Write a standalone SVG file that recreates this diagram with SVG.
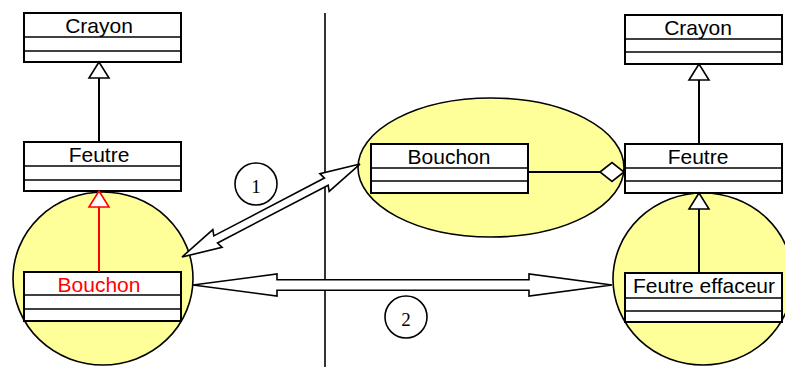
<svg xmlns="http://www.w3.org/2000/svg" width="785" height="367" viewBox="0 0 785 367">
<style>
.bg{fill:#ffffff}
.zone{fill:#ffff99;stroke:#000;stroke-width:1.6}
.box{fill:#fff;stroke:#000;stroke-width:2}
.div{stroke:#000;stroke-width:1.6}
.lbl{font-family:"Liberation Sans",Arial,sans-serif;font-size:21px;text-anchor:middle;fill:#000}
.num{font-family:"Liberation Serif","Times New Roman",serif;font-size:19px;text-anchor:middle;fill:#000}
.line{stroke:#000;stroke-width:2;fill:none}
.tri{fill:#fff;stroke:#000;stroke-width:1.6}
.big{fill:#fff;stroke:#000;stroke-width:1.6;stroke-linejoin:miter}
</style>
<rect class="bg" x="0" y="0" width="785" height="367"/>
<g id="zones">
<ellipse id="zoneLeft" class="zone" cx="103" cy="278.5" rx="90" ry="86.5"/>
<ellipse id="zoneMiddle" class="zone" cx="491" cy="167.5" rx="133" ry="69.5"/>
<ellipse id="zoneRight" class="zone" cx="703" cy="279" rx="90" ry="86"/>
</g>
<line id="separator" x1="325" y1="13" x2="325" y2="367" stroke="#000" stroke-width="1.6"/>
<g id="crayonLeft">
<rect class="box" x="24" y="13" width="157" height="49"/>
<line class="div" x1="24" y1="37" x2="181" y2="37"/>
<line class="div" x1="24" y1="51" x2="181" y2="51"/>
<text class="lbl" x="99" y="33">Crayon</text>
</g>
<g id="feutreLeft">
<rect class="box" x="24" y="142" width="157" height="49"/>
<line class="div" x1="24" y1="166" x2="181" y2="166"/>
<line class="div" x1="24" y1="180" x2="181" y2="180"/>
<text class="lbl" x="99" y="162">Feutre</text>
</g>
<g id="bouchonLeft">
<rect class="box" x="24" y="272" width="157" height="49"/>
<line class="div" x1="24" y1="295" x2="181" y2="295"/>
<line class="div" x1="24" y1="309" x2="181" y2="309"/>
<text class="lbl" x="99" y="292" fill="#ff0000" style="fill:#ff0000">Bouchon</text>
</g>
<g id="bouchonMiddle">
<rect class="box" x="371" y="144" width="157" height="49"/>
<line class="div" x1="371" y1="168" x2="528" y2="168"/>
<line class="div" x1="371" y1="181" x2="528" y2="181"/>
<text class="lbl" x="449" y="164">Bouchon</text>
</g>
<g id="crayonRight">
<rect class="box" x="625" y="15" width="157" height="49"/>
<line class="div" x1="625" y1="39" x2="782" y2="39"/>
<line class="div" x1="625" y1="52" x2="782" y2="52"/>
<text class="lbl" x="698" y="35">Crayon</text>
</g>
<g id="feutreRight">
<rect class="box" x="625" y="144" width="157" height="49"/>
<line class="div" x1="625" y1="168" x2="782" y2="168"/>
<line class="div" x1="625" y1="181" x2="782" y2="181"/>
<text class="lbl" x="698" y="164">Feutre</text>
</g>
<g id="feutreEffaceur">
<rect class="box" x="625" y="273" width="157" height="49"/>
<line class="div" x1="625" y1="298" x2="782" y2="298"/>
<line class="div" x1="625" y1="311" x2="782" y2="311"/>
<text class="lbl" x="704" y="293">Feutre effaceur</text>
</g>
<g id="connectors">
<line class="line" x1="99" y1="142" x2="99" y2="78"/>
<polygon class="tri" points="99,62 89,78 109,78"/>
<line class="line" x1="99" y1="272" x2="99" y2="207" stroke="#ff0000" style="stroke:#ff0000"/>
<polygon class="tri" points="99,191 89,207 109,207" style="stroke:#ff0000"/>
<line class="line" x1="699" y1="144" x2="699" y2="80"/>
<polygon class="tri" points="699,64 689,80 709,80"/>
<line class="line" x1="699" y1="273" x2="699" y2="209"/>
<polygon class="tri" points="699,193 689,209 709,209"/>
<line class="line" x1="528" y1="172" x2="600" y2="172"/>
<polygon class="tri" points="600,172 612,162.5 624,172 612,181.5"/>
<g transform="translate(182,257) rotate(-27.58)">
<polygon class="big" points="0,0 40,-10 38,-4 162.8,-4 160.8,-10 200.8,0 160.8,10 162.8,4 38,4 40,10"/>
</g>
<polygon class="big" points="193,285 277,274 277,279.7 529,279.7 529,274 612,285 529,296 529,290.3 277,290.3 277,296"/>
</g>
<g id="labels">
<circle cx="256" cy="184" r="21" fill="#fff" stroke="#000" stroke-width="1.6"/>
<text class="num" x="256" y="193">1</text>
<circle cx="406" cy="317" r="21" fill="#fff" stroke="#000" stroke-width="1.6"/>
<text class="num" x="406" y="326">2</text>
</g>
</svg>
